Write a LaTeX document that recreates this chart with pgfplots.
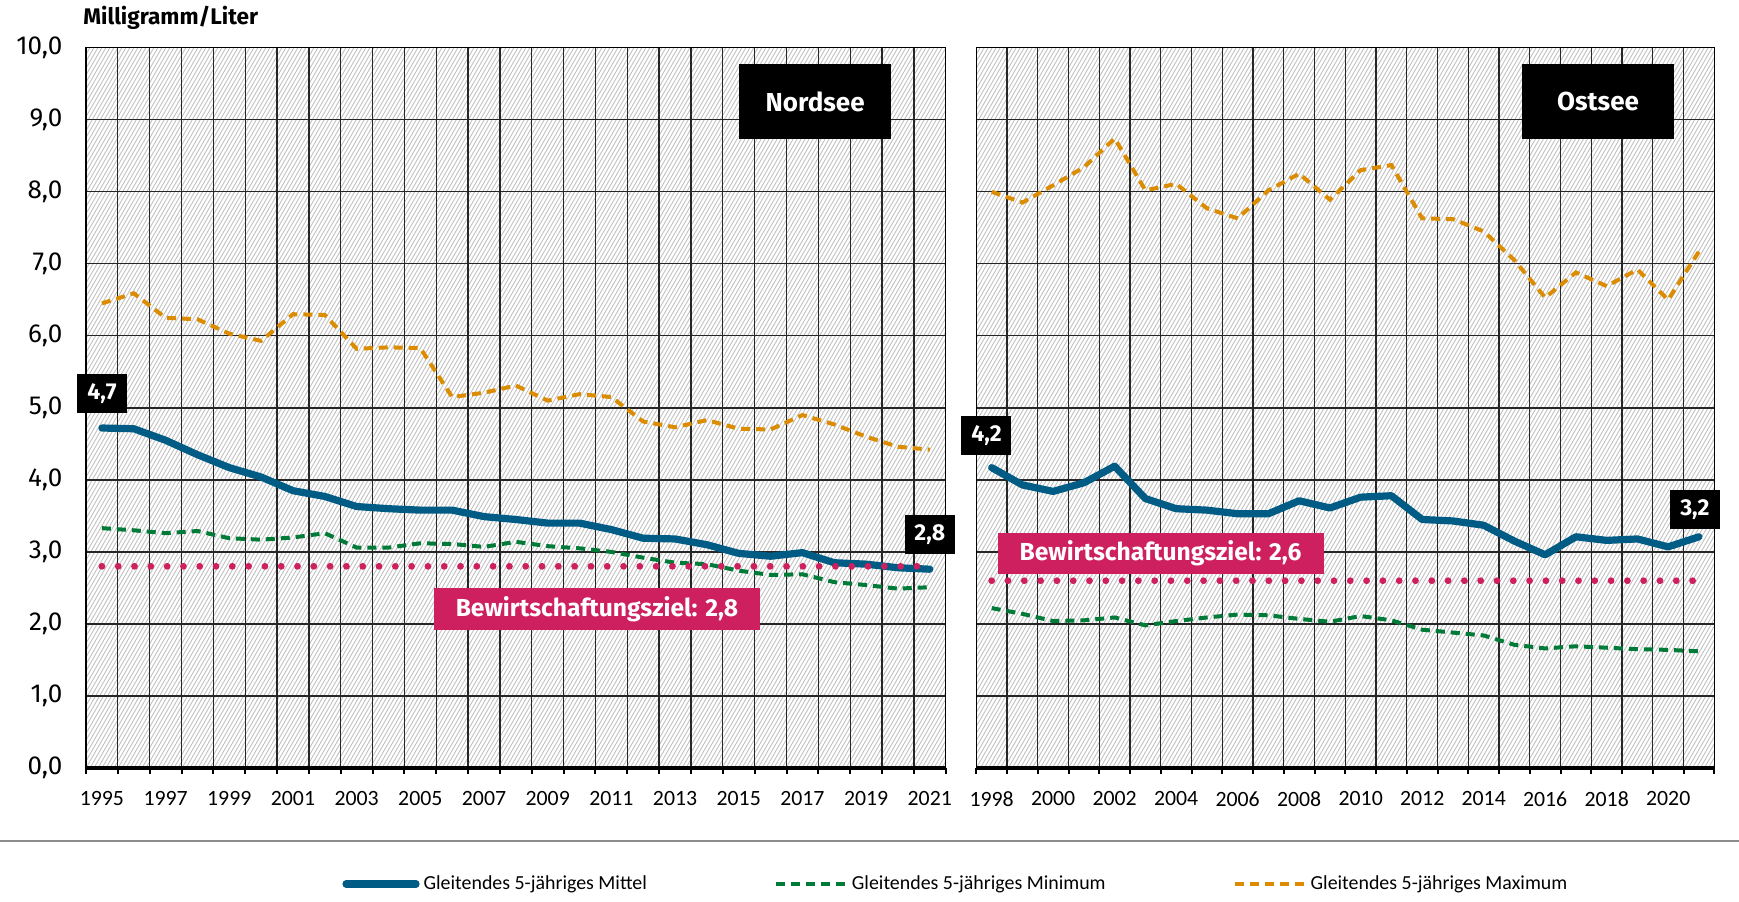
\documentclass[border=0pt]{standalone}
\usepackage{fontspec}
\setmainfont{Carlito}
\newfontfamily\fira{Fira Sans}
\usepackage{pgfplots}
\pgfplotsset{compat=1.18}
\usepackage{pgfplotstable}

\definecolor{cmean}{RGB}{0,92,132}
\definecolor{cmin}{RGB}{0,122,55}
\definecolor{cmax}{RGB}{220,140,0}
\definecolor{cziel}{RGB}{206,31,94}

\pgfplotstableread{
year mean min max
1995 4.72 3.33 6.45
1996 4.71 3.30 6.59
1997 4.55 3.26 6.25
1998 4.35 3.29 6.23
1999 4.17 3.19 6.03
2000 4.04 3.17 5.93
2001 3.85 3.20 6.30
2002 3.77 3.26 6.29
2003 3.63 3.06 5.82
2004 3.60 3.06 5.84
2005 3.58 3.12 5.83
2006 3.58 3.11 5.15
2007 3.49 3.07 5.21
2008 3.45 3.14 5.31
2009 3.40 3.08 5.10
2010 3.40 3.05 5.19
2011 3.31 3.00 5.15
2012 3.19 2.92 4.81
2013 3.18 2.85 4.73
2014 3.10 2.83 4.83
2015 2.98 2.74 4.71
2016 2.94 2.68 4.70
2017 2.99 2.69 4.90
2018 2.85 2.58 4.77
2019 2.83 2.54 4.60
2020 2.78 2.49 4.46
2021 2.76 2.51 4.42
}\nord

\pgfplotstableread{
year mean min max
1998 4.17 2.22 8.00
1999 3.93 2.14 7.85
2000 3.84 2.04 8.09
2001 3.96 2.05 8.34
2002 4.19 2.09 8.74
2003 3.74 1.98 8.02
2004 3.60 2.04 8.11
2005 3.58 2.09 7.77
2006 3.53 2.13 7.63
2007 3.53 2.12 8.02
2008 3.71 2.07 8.25
2009 3.61 2.03 7.89
2010 3.76 2.11 8.30
2011 3.78 2.05 8.37
2012 3.45 1.92 7.63
2013 3.43 1.88 7.62
2014 3.37 1.84 7.45
2015 3.15 1.71 7.05
2016 2.96 1.66 6.53
2017 3.21 1.69 6.88
2018 3.16 1.67 6.69
2019 3.18 1.65 6.92
2020 3.07 1.64 6.50
2021 3.21 1.62 7.17
}\ost

\tikzset{
 numbox/.style={fill=black, text=white, font=\fira\bfseries\fontsize{11.5}{13}\selectfont, minimum width=25pt, minimum height=19.5pt, inner sep=0pt},
 seebox/.style={fill=black, text=white, font=\fira\bfseries\fontsize{13}{15}\selectfont, minimum width=76pt, minimum height=37.5pt, inner sep=0pt},
 zielbox/.style={fill=cziel, text=white, font=\fira\bfseries\fontsize{12.3}{14}\selectfont, minimum width=163pt, minimum height=20.7pt, inner sep=0pt},
 meanline/.style={cmean, line width=3.6pt, line join=round, line cap=round},
 minline/.style={cmin, line width=2pt, dash pattern=on 4.5pt off 3pt},
 maxline/.style={cmax, line width=2pt, dash pattern=on 4.5pt off 3pt},
 zielline/.style={cziel, line width=3.4pt, line cap=round, dash pattern=on 0pt off 8.15pt},
 hatchbg/.style={fill=white, path picture={%
   \foreach \hx in {-212,-210,...,432}
     \draw[black!24, line width=0.45pt] ([xshift=\hx pt]path picture bounding box.south west) -- ++(60:425pt);
 }},
}

\pgfplotsset{
 panel/.style={
  scale only axis, height=360.15pt, anchor=south west,
  ymin=0, ymax=10, clip=false,
  ytick={0,1,...,10},
  ymajorgrids, xmajorgrids=false, xminorgrids,
  grid style={black!85, line width=0.65pt},
  minor grid style={black!85, line width=0.65pt},
  axis line style={black, line width=0.65pt},
  major tick length=0pt,
  minor tick length=3pt,
  tick align=outside,
  xtick pos=left, ytick pos=left,
  minor x tick style={black, line width=1pt},
  axis background/.style={hatchbg},
  xticklabel style={font=\fontsize{10.9}{12}\selectfont, yshift=-8.2pt},
  yticklabel style={font=\fira\fontsize{13}{15}\selectfont, xshift=-8.3pt,
     /pgf/number format/fixed, /pgf/number format/fixed zerofill, /pgf/number format/precision=1},
  /pgf/number format/use comma,
  /pgf/number format/1000 sep={},
  /pgf/number format/assume math mode=true,
 },
}

\begin{document}
\begin{tikzpicture}
\path[use as bounding box] (0pt,0pt) rectangle (869.5pt,450.5pt);
\draw[black!45, line width=1pt] (0pt,30pt) -- (869.5pt,30pt);

\begin{axis}[panel, at={(43pt,66.5pt)}, width=429.85pt,
  xmin=1994.5, xmax=2021.5,
  xtick={1995,1997,...,2021},
  minor xtick={1994.5,1995.5,...,2021.5},
  legend columns=3,
  legend style={draw=none, fill=none, at={(0.2978,-0.161)}, anchor=west, inner sep=0pt,
     font=\fontsize{9.95}{11}\selectfont,
     /tikz/every even column/.append style={column sep=61.5pt}},
  legend image code/.code={\draw[#1] (0pt,0pt) -- (35pt,0pt);},
]
\addplot[meanline] table[x=year,y=mean]{\nord};
\addlegendentry{Gleitendes 5-jähriges Mittel}
\addplot[minline] table[x=year,y=min]{\nord};
\addlegendentry{Gleitendes 5-jähriges Minimum}
\addplot[maxline] table[x=year,y=max]{\nord};
\addlegendentry{Gleitendes 5-jähriges Maximum}
\addplot[zielline, forget plot] coordinates {(1995,2.8) (2021,2.8)};
\draw[black, line width=2pt] (rel axis cs:0,0) -- (rel axis cs:1,0);
\node[numbox] at (axis cs:1995,5.2) {4,7};
\node[numbox] at (axis cs:2021,3.24) {2,8};
\node[seebox] at (axis cs:2017.4,9.25) {Nordsee};
\node[zielbox] at (axis cs:2010.55,2.21) {Bewirtschaftungsziel: 2,8};
\node[anchor=base west, inner sep=0pt, xshift=-1.5pt, yshift=11.35pt, font=\fira\bfseries\fontsize{11.3}{13}\selectfont] at (rel axis cs:0,1) {Milligramm/Liter};
\end{axis}

\begin{axis}[panel, at={(488.15pt,66.5pt)}, width=369pt,
  xmin=1997.5, xmax=2021.5,
  xtick={1998,2000,...,2020},
  minor xtick={1997.5,1998.5,...,2021.5},
  yticklabels={},
]
\addplot[meanline] table[x=year,y=mean]{\ost};
\addplot[minline] table[x=year,y=min]{\ost};
\addplot[maxline] table[x=year,y=max]{\ost};
\addplot[zielline] coordinates {(1998,2.6) (2021,2.6)};
\draw[black, line width=2pt] (rel axis cs:0,0) -- (rel axis cs:1,0);
\node[numbox] at (axis cs:1997.83,4.61) {4,2};
\node[numbox] at (axis cs:2020.87,3.59) {3,2};
\node[seebox] at (axis cs:2017.72,9.25) {Ostsee};
\node[zielbox] at (axis cs:2003.49,2.98) {Bewirtschaftungsziel: 2,6};
\end{axis}
\end{tikzpicture}
\end{document}
